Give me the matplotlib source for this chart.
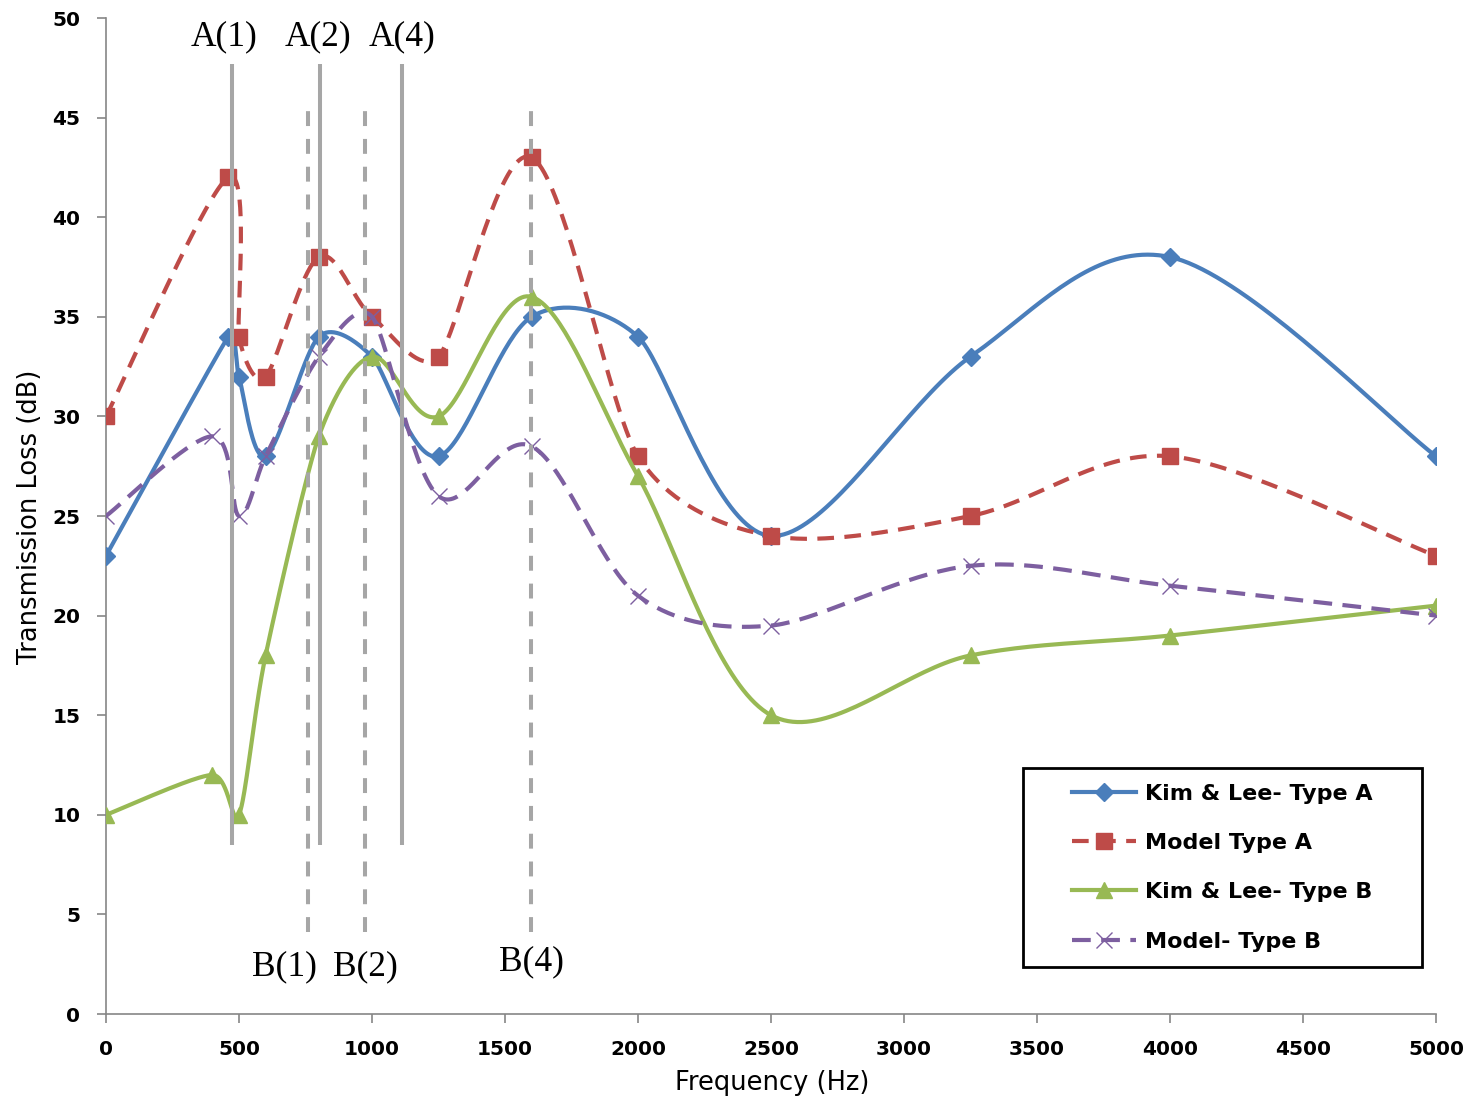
import numpy as np
import matplotlib
matplotlib.use("Agg")
import matplotlib.pyplot as plt
from matplotlib.patches import Rectangle

# ---------------- data ----------------
freq_A = [0, 460, 500, 600, 800, 1000, 1250, 1600, 2000, 2500, 3250, 4000, 5000]
kim_lee_A = [23, 34, 32, 28, 34, 33, 28, 35, 34, 24, 33, 38, 28]
model_A = [30, 42, 34, 32, 38, 35, 33, 43, 28, 24, 25, 28, 23]

freq_B = [0, 400, 500, 600, 800, 1000, 1250, 1600, 2000, 2500, 3250, 4000, 5000]
kim_lee_B = [10, 12, 10, 18, 29, 33, 30, 36, 27, 15, 18, 19, 20.5]
model_B = [25, 29, 25, 28, 33, 35, 26, 28.5, 21, 19.5, 22.5, 21.5, 20]

series_labels = ["Kim & Lee- Type A", "Model Type A", "Kim & Lee- Type B", "Model- Type B"]

# resonance markers
a_marker_freq = [474, 805, 1113]
a_marker_labels = ["A(1)", "A(2)", "A(4)"]
a_label_freq = [444, 797, 1113]
b_marker_freq = [759, 974, 1598]
b_marker_labels = ["B(1)", "B(2)", "B(4)"]
b_label_freq = [669, 974, 1598]

x_ticks = [0, 500, 1000, 1500, 2000, 2500, 3000, 3500, 4000, 4500, 5000]
y_ticks = [0, 5, 10, 15, 20, 25, 30, 35, 40, 45, 50]

# ---------------- figure ----------------
W, H, DPI = 1474, 1103, 100
fig = plt.figure(figsize=(W / DPI, H / DPI), dpi=DPI)
ax_l, ax_r, ax_t, ax_b = 106, 1436, 18, 1014
ax = fig.add_axes([ax_l / W, 1 - ax_b / H, (ax_r - ax_l) / W, (ax_b - ax_t) / H])
ax.set_xlim(0, 5000)
ax.set_ylim(0, 50)

SX = (ax_r - ax_l) / 5000.0
SY = (ax_b - ax_t) / 50.0


def excel_smooth(x, y, n=40, ratio=0.35):
    P = np.column_stack([np.asarray(x, float) * SX, np.asarray(y, float) * SY])
    m = len(P)
    T = []
    for i in range(m):
        pa = P[i - 1] if i > 0 else P[i]
        pb = P[i + 1] if i < m - 1 else P[i]
        t = (pb - pa) / 6.0
        ds = []
        if i > 0:
            ds.append(np.linalg.norm(P[i] - P[i - 1]))
        if i < m - 1:
            ds.append(np.linalg.norm(P[i + 1] - P[i]))
        lim = ratio * min(ds)
        nt = np.linalg.norm(t)
        if nt > lim:
            t = t * lim / nt
        T.append(t)
    out = []
    for i in range(m - 1):
        p1, p2 = P[i], P[i + 1]
        c1, c2 = p1 + T[i], p2 - T[i + 1]
        s = np.linspace(0, 1, n, endpoint=(i == m - 2))[:, None]
        b = (1 - s) ** 3 * p1 + 3 * (1 - s) ** 2 * s * c1 + 3 * (1 - s) * s ** 2 * c2 + s ** 3 * p2
        out.append(b)
    out = np.vstack(out)
    marks = list(range(0, n * (m - 1), n)) + [len(out) - 1]
    return out[:, 0] / SX, out[:, 1] / SY, marks


blue = "#4A7EBB"
red = "#BE4B48"
green = "#98B954"
purple = "#7D5FA0"
gray = "#A6A6A6"

specs = [
    (freq_A, kim_lee_A, blue, "-", "D", 9),
    (freq_A, model_A, red, (0, (4, 2.5)), "s", 11),
    (freq_B, kim_lee_B, green, "-", "^", 11),
    (freq_B, model_B, purple, (0, (4.5, 2.5)), "x", 11),
]
for (fx, fy, col, ls, mk, ms), lab in zip(specs, series_labels):
    xs, ys, marks = excel_smooth(fx, fy)
    kw = dict(color=col, lw=3.0, linestyle=ls, marker=mk, markersize=ms, markevery=marks,
              markerfacecolor=col, markeredgecolor=col, label=lab, zorder=3)
    if mk == "x":
        kw.update(markeredgewidth=1.0)
    ax.plot(xs, ys, **kw)

# vertical resonance lines
for fx in a_marker_freq:
    ax.plot([fx, fx], [8.5, 47.7], color=gray, lw=2.9, solid_capstyle="butt", zorder=5)
for fx in b_marker_freq:
    ax.plot([fx, fx], [4.1, 45.7], color=gray, lw=2.9, linestyle=(0, (3.7, 3.2)),
            dash_capstyle="butt", zorder=5)

serif = ["Liberation Serif", "DejaVu Serif"]
for fx, t in zip(a_label_freq, a_marker_labels):
    ax.text(fx, 48.65, t, ha="center", va="baseline", fontsize=25.5, family=serif, zorder=6)
for fx, t in zip(b_label_freq, b_marker_labels):
    yy = 2.21 if t == "B(4)" else 1.96
    ax.text(fx, yy, t, ha="center", va="baseline", fontsize=25.5, family=serif, zorder=6)

# axes styling
for s in ["top", "right"]:
    ax.spines[s].set_visible(False)
for s in ["left", "bottom"]:
    ax.spines[s].set_color("#868686")
    ax.spines[s].set_linewidth(1.2)
ax.set_xticks(x_ticks)
ax.set_yticks(y_ticks)
ax.tick_params(axis="both", direction="out", length=6.5, width=1.2, color="#868686",
               labelsize=14.5, pad=12)
for lbl in ax.get_xticklabels() + ax.get_yticklabels():
    lbl.set_fontweight("bold")

ax.set_xlabel("Frequency (Hz)", fontsize=18.5)
ax.set_ylabel("Transmission Loss (dB)", fontsize=18.5)
ax.xaxis.set_label_coords((772 - ax_l) / (ax_r - ax_l), (ax_b - 1083) / (ax_b - ax_t))
ax.yaxis.set_label_coords((30 - ax_l) / (ax_r - ax_l), (ax_b - 517) / (ax_b - ax_t))
ax.xaxis.label.set_va("center")
ax.yaxis.label.set_va("center")

# legend
bx0, bx1, by0, by1 = 1023, 1422, 768, 967
ax.add_patch(Rectangle(((bx0 - ax_l) / (ax_r - ax_l), (ax_b - by1) / (ax_b - ax_t)),
                       (bx1 - bx0) / (ax_r - ax_l), (by1 - by0) / (ax_b - ax_t),
                       transform=ax.transAxes, fill=True, facecolor="white",
                       edgecolor="black", lw=2, zorder=7, clip_on=False))
leg = ax.legend(loc="center",
                bbox_to_anchor=(((bx0 + bx1) / 2 - ax_l) / (ax_r - ax_l),
                                (ax_b - (by0 + by1) / 2) / (ax_b - ax_t)),
                frameon=False, numpoints=1, handlelength=2.9, handletextpad=0.4,
                labelspacing=1.32, prop={"weight": "bold", "size": 16})
leg.set_zorder(8)

fig.savefig("out.png", dpi=DPI)
